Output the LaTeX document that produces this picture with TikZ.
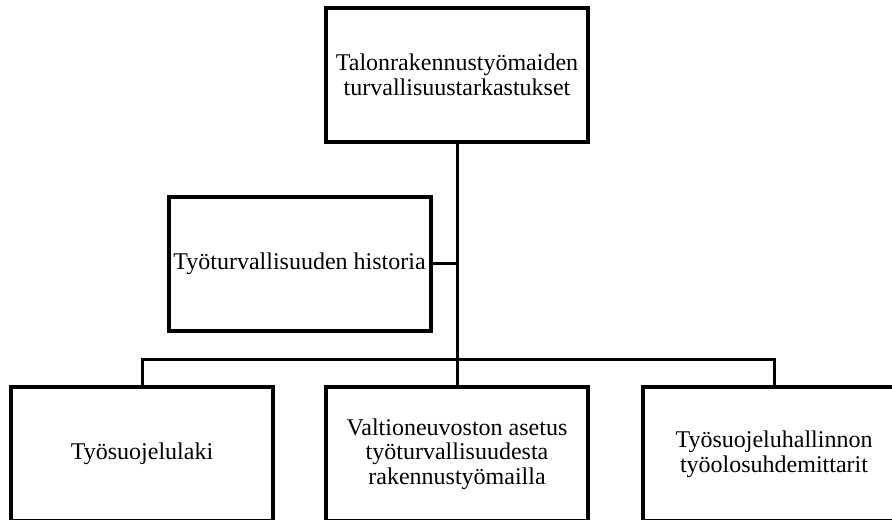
\documentclass[tikz,border=0pt]{standalone}
\usepackage{fontspec}
\setmainfont{Liberation Serif}

\tikzset{every picture/.style={line width=0.75pt}}
\tikzset{
  topicbox/.style={draw, line width=3pt, minimum width=196.5pt, minimum height=100.5pt, align=center, inner sep=0.75pt, font=\fontsize{18}{18.5}\selectfont},
  branchline/.style={line width=2.25pt}
}

\begin{document}
\begin{tikzpicture}[x=0.75pt,y=0.75pt,yscale=-1,xscale=1]
\useasboundingbox (0,0) rectangle (892,520);
\clip (0,0) rectangle (892,520);

% Boxes
\node [topicbox] (main) at (457,75) {Talonrakennustyömaiden\\turvallisuustarkastukset};
\node [topicbox] (history) at (299.5,264) {Työturvallisuuden historia};
\node [topicbox] (law) at (142,454) {Työsuojelulaki};
\node [topicbox] (decree) at (457,454) {Valtioneuvoston asetus\\työturvallisuudesta\\rakennustyömailla};
\node [topicbox] (meters) at (774,454) {Työsuojeluhallinnon\\työolosuhdemittarit};

% Connectors
\coordinate (split) at (457,359);
\draw [branchline] (main) -- (split);
\draw [branchline] (history) -- (history -| main);
\draw [branchline] (law.north) |- (split) -| (meters.north);
\draw [branchline] (split) -- (decree);

\end{tikzpicture}
\end{document}
